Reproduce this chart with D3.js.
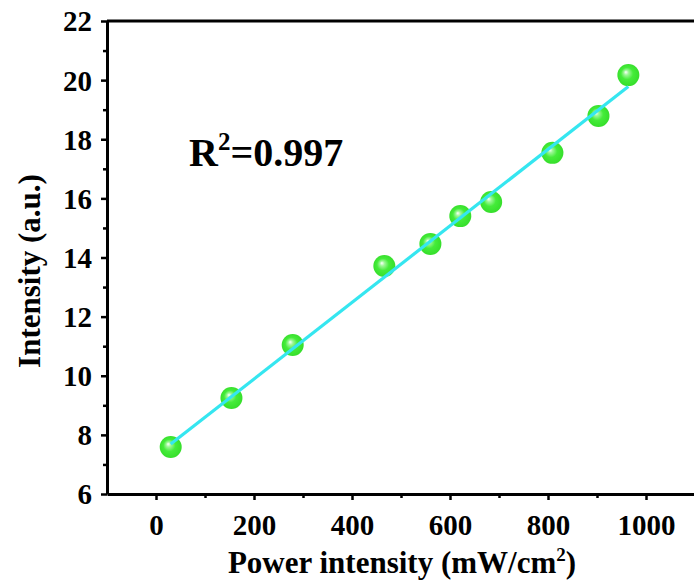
<!DOCTYPE html>
<html>
<head>
<meta charset="utf-8">
<script src="https://cdn.jsdelivr.net/npm/d3@7"></script>
<style>
  body { margin: 0; background: #fff; }
  text { font-family: "Liberation Serif", "Times New Roman", serif; font-weight: bold; }
</style>
</head>
<body>
<div id="chart"></div>
<script>
(function() {
  var width = 694,
      height = 588;

  // data
  const power = [30, 154, 279, 466, 560, 621, 684, 809, 903, 964];
  const intensity = [7.59, 9.25, 11.04, 13.71, 14.46, 15.40, 15.88, 17.54, 18.79, 20.17];
  const xTicks = [0, 200, 400, 600, 800, 1000];
  const yTicks = [6, 8, 10, 12, 14, 16, 18, 20, 22];
  const rSquared = "0.997";

  const points = power.map((p, i) => ({x: p, y: intensity[i]}));

  // least squares fit for the line
  const mx = d3.mean(power), my = d3.mean(intensity);
  const slope = d3.sum(points, d => (d.x - mx) * (d.y - my)) / d3.sum(points, d => (d.x - mx) * (d.x - mx));
  const intercept = my - slope * mx;
  const fitEnds = d3.extent(power).map(v => ({x: v, y: intercept + slope * v}));

  const x = d3.scaleLinear().domain([-100, 1100]).range([107, 695]);
  const y = d3.scaleLinear().domain([6, 22]).range([494, 21]);

  const svg = d3.select("#chart").append("svg")
                .attr("width", width)
                .attr("height", height);

  // sphere look for the markers
  const grad = svg.append("defs").append("radialGradient")
    .attr("id", "ball")
    .attr("cx", "0.5").attr("cy", "0.5").attr("r", "0.55")
    .attr("fx", "0.38").attr("fy", "0.36");
  grad.append("stop").attr("offset", "0%").attr("stop-color", "#ffffff");
  grad.append("stop").attr("offset", "20%").attr("stop-color", "#9cf796");
  grad.append("stop").attr("offset", "50%").attr("stop-color", "#45ec3a");
  grad.append("stop").attr("offset", "100%").attr("stop-color", "#33dc28");

  // markers
  svg.append("g")
    .selectAll("circle")
    .data(points)
    .join("circle")
    .attr("cx", d => x(d.x))
    .attr("cy", d => y(d.y))
    .attr("r", 11)
    .attr("fill", "url(#ball)");

  // fit line on top
  svg.append("path")
    .datum(fitEnds)
    .attr("d", d3.line().x(d => x(d.x)).y(d => y(d.y)))
    .attr("stroke", "#35e6f0")
    .attr("stroke-width", 3.2)
    .attr("fill", "none");

  // frame (top + left + bottom, right is cut off)
  svg.append("line").attr("x1", 107).attr("x2", 695).attr("y1", 21).attr("y2", 21)
    .attr("stroke", "black").attr("stroke-width", 3);

  // bottom axis
  const xAxis = svg.append("g").attr("transform", "translate(0,494)");
  xAxis.call(d3.axisBottom(x).tickValues(d3.range(-100, 1101, 100)).tickSize(0).tickFormat(""));
  xAxis.select(".domain").attr("stroke-width", 3);
  xAxis.selectAll(".tick line")
    .attr("y2", d => xTicks.includes(d) ? 6 : 4)
    .attr("stroke-width", 2.5);
  xAxis.selectAll(".tick").filter(d => d === -100 || d === 1100).remove();
  xAxis.selectAll(".tick").filter(d => xTicks.includes(d))
    .append("text")
    .attr("y", 41)
    .attr("fill", "black")
    .attr("font-size", 29)
    .attr("text-anchor", "middle")
    .text(d => d);

  // left axis
  const yAxis = svg.append("g").attr("transform", "translate(107,0)");
  yAxis.call(d3.axisLeft(y).tickValues(d3.range(6, 22.1, 1)).tickSize(0).tickFormat(""));
  yAxis.select(".domain").attr("stroke-width", 3);
  yAxis.selectAll(".tick line")
    .attr("x2", d => yTicks.includes(d) ? -6 : -4)
    .attr("stroke-width", 2.5);
  yAxis.selectAll(".tick").filter(d => yTicks.includes(d))
    .append("text")
    .attr("x", -15)
    .attr("dy", "0.34em")
    .attr("fill", "black")
    .attr("font-size", 29)
    .attr("text-anchor", "end")
    .text(d => d);

  // axis titles
  const xt = svg.append("text")
    .attr("x", 402).attr("y", 573)
    .attr("text-anchor", "middle")
    .attr("font-size", 31);
  xt.append("tspan").text("Power intensity (mW/cm");
  xt.append("tspan").attr("font-size", 19).attr("dy", -12).text("2");
  xt.append("tspan").attr("dy", 12).text(")");

  svg.append("text")
    .attr("transform", "translate(40,271) rotate(-90)")
    .attr("text-anchor", "middle")
    .attr("font-size", 31)
    .text("Intensity (a.u.)");

  // R squared note
  const rt = svg.append("text")
    .attr("x", 189).attr("y", 166)
    .attr("font-size", 40);
  rt.append("tspan").text("R");
  rt.append("tspan").attr("font-size", 25).attr("dy", -16).text("2");
  rt.append("tspan").attr("dy", 16).text("=" + rSquared);
})();
</script>
</body>
</html>
